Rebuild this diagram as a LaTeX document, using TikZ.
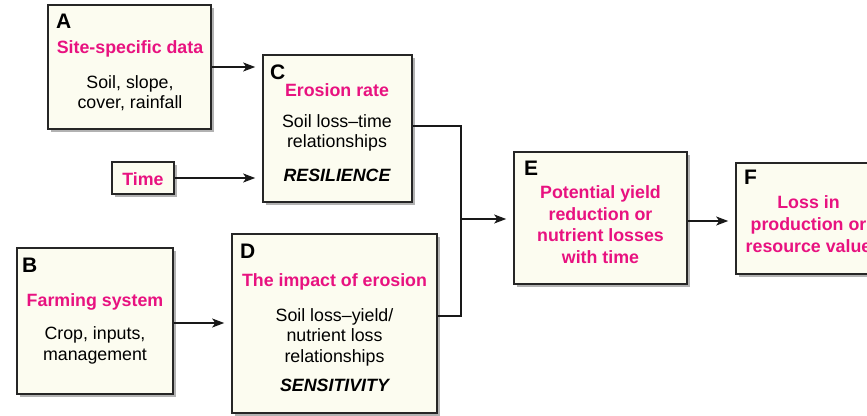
\documentclass[tikz,border=0pt]{standalone}
\usepackage{fontspec}
\setmainfont{Liberation Sans}
\usetikzlibrary{arrows.meta,shadows,calc}
\definecolor{pinktitle}{RGB}{232,18,128}
\definecolor{boxfill}{RGB}{252,252,240}
\begin{document}
\begin{tikzpicture}[x=1pt,y=-1pt,
  box/.style={draw=black!85, line width=1.6pt, fill=boxfill, inner sep=0pt,
    drop shadow={shadow xshift=2.5pt, shadow yshift=-2.5pt, fill=black, opacity=0.3}},
  title/.style={text=pinktitle, font=\fontsize{17.8}{21.7}\selectfont\bfseries, align=center, inner sep=0pt},
  body/.style={font=\fontsize{17.8}{20.5}\selectfont, align=center, inner sep=0pt},
  keyword/.style={font=\fontsize{17.8}{21}\selectfont\bfseries\itshape, inner sep=0pt},
  tag/.style={font=\fontsize{21}{24}\selectfont\bfseries, anchor=west, inner sep=0pt},
  conn/.style={line width=1.3pt, draw=black!90},
  arr/.style={conn, shorten >=7pt, -{Stealth[length=12pt,width=9pt,inset=3pt]}}]
\clip (0,0) rectangle (867,415);
\fill[white] (0,0) rectangle (867,415);

% boxes
\node[box, minimum width=163pt, minimum height=124pt] (A) at (129.5,67) {};
\node[box, minimum width=149pt, minimum height=147pt] (C) at (337.5,128.5) {};
\node[box, minimum width=62pt, minimum height=32pt] (T) at (143,178) {};
\node[box, minimum width=156pt, minimum height=146pt] (B) at (95,321) {};
\node[box, minimum width=205pt, minimum height=179pt] (D) at (334.5,323.5) {};
\node[box, minimum width=173pt, minimum height=132pt] (E) at (600.5,218) {};
\node[box, minimum width=144pt, minimum height=111pt] (F) at (808,218.5) {};

% box A
\node[tag] (Atag) at (56,21) {A};
\node[title] (Atitle) at (130,49) {Site-specific data};
\node[body] (Abody) at (130,93) {Soil, slope,\\cover, rainfall};

% box C
\node[tag] (Ctag) at (270,72) {C};
\node[title] (Ctitle) at (337,90) {Erosion rate};
\node[body] (Cbody) at (337,133) {Soil loss–time\\relationships};
\node[keyword] (Ckey) at (337,175) {RESILIENCE};

% time box
\node[title] (Ttitle) at (143,179) {Time};

% box B
\node[tag] (Btag) at (22,265) {B};
\node[title] (Btitle) at (95,302) {Farming system};
\node[body] (Bbody) at (95,345.5) {Crop, inputs,\\management};

% box D
\node[tag] (Dtag) at (240,251) {D};
\node[title] (Dtitle) at (334.5,282) {The impact of erosion};
\node[body] (Dbody) at (334.5,337) {Soil loss–yield/\\nutrient loss\\relationships};
\node[keyword] (Dkey) at (334.5,385) {SENSITIVITY};

% box E
\node[tag] (Etag) at (524,168) {E};
\node[title] (Etitle) at (600.5,224.5) {Potential yield\\reduction or\\nutrient losses\\with time};

% box F
\node[tag] (Ftag) at (744,177) {F};
\node[title] (Ftitle) at (808.5,224) {Loss in\\production or\\resource value};

% connectors
\coordinate (m) at (461,219);
\draw[arr] (A.east) -- (A.east -| C.west);
\draw[arr] (T.east) -- (T.east -| C.west);
\draw[arr] ($(B.east)+(0,2)$) -- ($(B.east -| D.west)+(0,2)$);
\draw[conn] ($(C.east)+(0,-2.5)$) -| (m);
\draw[conn] ($(D.east)+(0,-7.5)$) -| (m);
\draw[arr] (m) -- (m -| E.west);
\draw[arr] ($(E.east)+(0,3)$) -- ($(E.east -| F.west)+(0,3)$);
\end{tikzpicture}
\end{document}
